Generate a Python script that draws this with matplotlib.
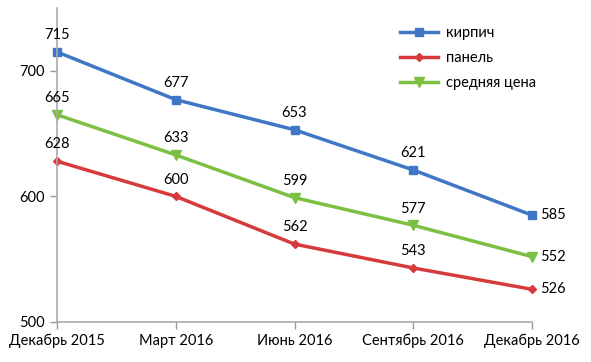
import matplotlib
matplotlib.use("Agg")
import matplotlib.pyplot as plt

plt.rcParams['font.family'] = ['Lato', 'DejaVu Sans']

months = ["Декабрь 2015", "Март 2016", "Июнь 2016", "Сентябрь 2016", "Декабрь 2016"]
brick = [715, 677, 653, 621, 585]
panel = [628, 600, 562, 543, 526]
avg = [665, 633, 599, 577, 552]
names = ["кирпич", "панель", "средняя цена"]

fig = plt.figure(figsize=(5.91, 3.62), dpi=100)
ax = fig.add_axes([0.0964, 0.1105, 0.804, 0.8675])

x = list(range(len(months)))
series = [(brick, "#3f77c6", "s", 6), (panel, "#d63a3a", "D", 4.5), (avg, "#7cc043", "v", 6.5)]
for (vals, col, mk, ms), name in zip(series, names):
    ax.plot(x, vals, color=col, lw=2.5, marker=mk, ms=ms, label=name)
    for i, v in enumerate(vals):
        if i == len(vals) - 1:
            ax.annotate(str(v), (i, v), xytext=(6, 0), textcoords="offset points",
                        ha="left", va="center", fontsize=10.5)
        else:
            ax.annotate(str(v), (i, v), xytext=(0, 7), textcoords="offset points",
                        ha="center", va="bottom", fontsize=10.5)

ax.set_xlim(0, 4)
ax.set_ylim(500, 750)
ax.set_yticks([500, 600, 700])
ax.set_xticks(x)
ax.set_xticklabels(months)
ax.tick_params(axis="both", colors="#999999", labelcolor="black", labelsize=10.5, length=5, width=1)
for s in ["top", "right"]:
    ax.spines[s].set_visible(False)
for s in ["left", "bottom"]:
    ax.spines[s].set_color("#aaaaaa")
    ax.spines[s].set_linewidth(1.2)
for ln in ax.lines:
    ln.set_clip_on(False)

ax.legend(loc="upper left", bbox_to_anchor=(0.695, 0.985), frameon=False, fontsize=10.5,
          handlelength=2.6, labelspacing=0.75, handletextpad=0.5)

fig.savefig("out.png", dpi=100)
